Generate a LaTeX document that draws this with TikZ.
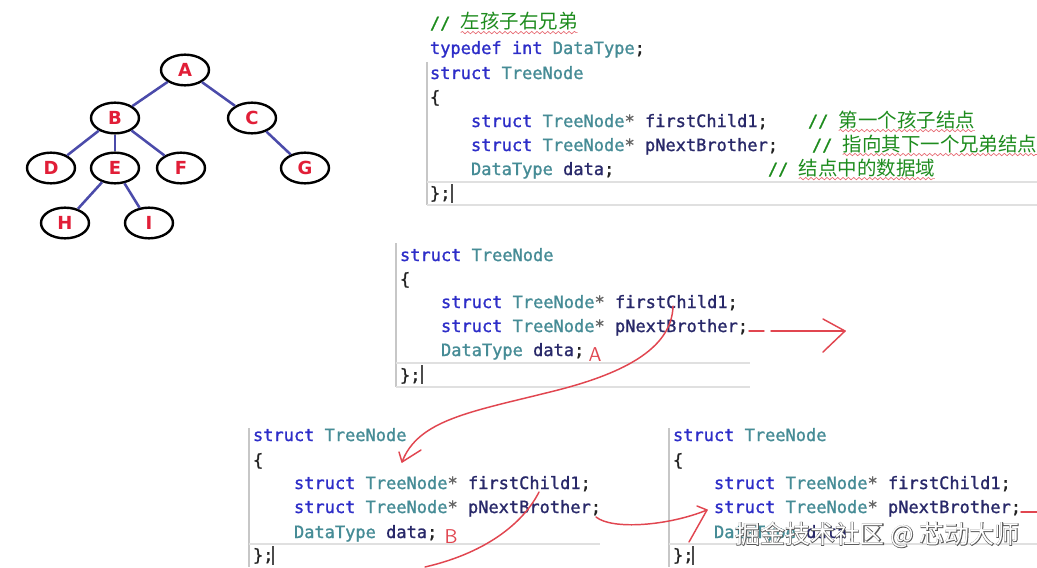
\documentclass[tikz,border=0pt]{standalone}
\usepackage{fontspec}
\newfontfamily\codefont[FakeBold=1.2]{DejaVu Sans Mono}
\newfontfamily\cjkfont{Noto Sans CJK SC}
\newfontfamily\cjkfat[FakeBold=4]{Noto Sans CJK SC}
\newfontfamily\treefont{DejaVu Sans}
\usetikzlibrary{shapes.geometric,decorations.pathmorphing}
\definecolor{kwblue}{RGB}{45,45,200}
\definecolor{tyteal}{RGB}{70,140,150}
\definecolor{idnavy}{RGB}{40,40,105}
\definecolor{cmgreen}{RGB}{30,140,30}
\definecolor{pencil}{RGB}{225,70,80}
\definecolor{edgeblue}{RGB}{75,75,170}
\definecolor{lettred}{RGB}{225,30,55}
\definecolor{punct}{RGB}{35,35,35}
\newcommand\cKw[1]{\textcolor{kwblue}{#1}}
\newcommand\cTy[1]{\textcolor{tyteal}{#1}}
\newcommand\cId[1]{\textcolor{idnavy}{#1}}
\newcommand\cPu[1]{\textcolor{punct}{#1}}
\newcommand\cSt{\textcolor{punct!70}{*}}
\begin{document}
\begin{tikzpicture}[x=0.75pt,y=-0.75pt,
  treenode/.style={ellipse,draw=black,line width=1.8pt,fill=white,minimum width=36,minimum height=23,inner sep=0pt,
    font=\treefont\bfseries\fontsize{13.5pt}{14pt}\selectfont,text=lettred},
  treeedge/.style={draw=edgeblue,line width=1.9pt},
  codeline/.style={font=\codefont\fontsize{12.75pt}{15pt}\selectfont,inner sep=0pt,outer sep=0pt,anchor=base west},
  cjkcm/.style={font=\cjkfont\fontsize{14.6pt}{16pt}\selectfont,text=cmgreen,inner sep=0pt,outer sep=0pt,anchor=base west},
  wavy/.style={draw=pencil!80,line width=0.5pt,decorate,decoration={snake,amplitude=0.9,segment length=4}},
  border/.style={draw=black!22,line width=0.8pt},
  sep/.style={draw=black!12,line width=0.8pt},
  cursor/.style={draw=black!70,line width=0.9pt},
  pen/.style={draw=pencil,line width=1.1pt,line cap=round,line join=round},
  penlabel/.style={text=pencil,font=\sffamily\fontsize{15pt}{16pt}\selectfont,inner sep=0pt},
  wm/.style={font=\fontsize{18.7pt}{20pt}\selectfont,inner sep=0pt,anchor=west}]
\useasboundingbox[fill=white] (0,0) rectangle (1037,567);

% ---------------- tree ----------------
\node[treenode] (A) at (185,70) {A};
\node[treenode] (B) at (115,118) {B};
\node[treenode] (C) at (252,118) {C};
\node[treenode] (D) at (51,168) {D};
\node[treenode] (E) at (115,168) {E};
\node[treenode] (F) at (181,168) {F};
\node[treenode] (G) at (305,168) {G};
\node[treenode] (H) at (65,223) {H};
\node[treenode] (I) at (149,223) {I};
\draw[treeedge] (A) -- (B);
\draw[treeedge] (A) -- (C);
\draw[treeedge] (B) -- (D);
\draw[treeedge] (B) -- (E);
\draw[treeedge] (B) -- (F);
\draw[treeedge] (C) -- (G);
\draw[treeedge] (E) -- (H);
\draw[treeedge] (E) -- (I);

% ---------------- block 1 ----------------
\draw[border] (427,62) -- (427,205);
\draw[sep] (427,182) -- (1037,182);
\draw[sep] (427,205) -- (1037,205);
\draw[cursor] (452,184) -- (452,203);
\node[codeline] (b1c) at (430,29) {\textcolor{cmgreen}{// }};
\node[cjkcm] (b1cz) at (b1c.base east) {左孩子右兄弟};
\node[codeline] (b1t) at (430,54) {\cKw{typedef} \cKw{int} \cTy{DataType}\cPu{;}};
\node[codeline] (b1s) at (430,79) {\cKw{struct} \cTy{TreeNode}};
\node[codeline] (b1o) at (430,103) {\cPu{\{}};
\node[codeline] (b1f) at (471,127) {\cKw{struct} \cTy{TreeNode}\cSt{} \cId{firstChild1}\cPu{;}};
\node[codeline] (b1n) at (471,151) {\cKw{struct} \cTy{TreeNode}\cSt{} \cId{pNextBrother}\cPu{;}};
\node[codeline] (b1d) at (471,175) {\cTy{DataType} \cId{data}\cPu{;}};
\node[codeline] (b1e) at (430,199) {\cPu{\};}};
\node[codeline] (c1) at (808,127) {\textcolor{cmgreen}{// }};
\node[cjkcm] (c1z) at (c1.base east) {第一个孩子结点};
\node[codeline] (c2) at (812,151) {\textcolor{cmgreen}{// }};
\node[cjkcm] (c2z) at (c2.base east) {指向其下一个兄弟结点};
\node[codeline] (c3) at (768,175) {\textcolor{cmgreen}{// }};
\node[cjkcm] (c3z) at (c3.base east) {结点中的数据域};
\draw[wavy] ([yshift=-1.5]b1cz.south west) -- ([yshift=-1.5]b1cz.south east);
\draw[wavy] ([yshift=-1.5]c1z.south west) -- ([yshift=-1.5]c1z.south east);
\draw[wavy] ([yshift=-1.5]c2z.south west) -- ([yshift=-1.5]c2z.south east);
\draw[wavy] ([yshift=-1.5]c3z.south west) -- ([yshift=-1.5]c3z.south east);

% ---------------- block 2 ----------------
\draw[border] (396,243) -- (396,387);
\draw[sep] (396,363) -- (750,363);
\draw[sep] (396,387) -- (750,387);
\draw[cursor] (422,365) -- (422,384);
\node[codeline] (b2s) at (400,261) {\cKw{struct} \cTy{TreeNode}};
\node[codeline] (b2o) at (400,285) {\cPu{\{}};
\node[codeline] (b2f) at (441,308) {\cKw{struct} \cTy{TreeNode}\cSt{} \cId{firstChild1}\cPu{;}};
\node[codeline] (b2n) at (441,332) {\cKw{struct} \cTy{TreeNode}\cSt{} \cId{pNextBrother}\cPu{;}};
\node[codeline] (b2d) at (441,356) {\cTy{DataType} \cId{data}\cPu{;}};
\node[codeline] (b2e) at (400,381) {\cPu{\};}};
\node[penlabel] (labA) at (595,355) {A};

% ---------------- block 3 ----------------
\draw[border] (249,428) -- (249,567);
\draw[sep] (249,544) -- (600,544);
\draw[cursor] (273,546) -- (273,565);
\node[codeline] (b3s) at (253,441) {\cKw{struct} \cTy{TreeNode}};
\node[codeline] (b3o) at (253,466) {\cPu{\{}};
\node[codeline] (b3f) at (294,489) {\cKw{struct} \cTy{TreeNode}\cSt{} \cId{firstChild1}\cPu{;}};
\node[codeline] (b3n) at (294,513) {\cKw{struct} \cTy{TreeNode}\cSt{} \cId{pNextBrother}\cPu{;}};
\node[codeline] (b3d) at (294,538) {\cTy{DataType} \cId{data}\cPu{;}};
\node[codeline] (b3e) at (253,561) {\cPu{\};}};
\node[penlabel] (labB) at (451,537) {B};

% ---------------- block 4 ----------------
\draw[border] (669,428) -- (669,567);
\draw[sep] (669,544) -- (1037,544);
\draw[cursor] (693,546) -- (693,565);
\node[codeline] (b4s) at (673,441) {\cKw{struct} \cTy{TreeNode}};
\node[codeline] (b4o) at (673,466) {\cPu{\{}};
\node[codeline] (b4f) at (714,489) {\cKw{struct} \cTy{TreeNode}\cSt{} \cId{firstChild1}\cPu{;}};
\node[codeline] (b4n) at (714,513) {\cKw{struct} \cTy{TreeNode}\cSt{} \cId{pNextBrother}\cPu{;}};
\node[codeline] (b4d) at (714,538) {\cTy{DataType} \cId{data}\cPu{;}};
\node[codeline] (b4e) at (673,561) {\cPu{\};}};

% ---------------- red pen strokes ----------------
\coordinate (p1s) at (673,306);
\coordinate (p1m) at (550,392);
\coordinate (p1t) at (402,462);
\coordinate (p1a) at (399,452);
\coordinate (p1b) at (421,450);
\draw[pen] (p1s) .. controls (672,350) and (620,375) .. (p1m) .. controls (470,412) and (418,420) .. (p1t);
\draw[pen] (p1a) -- (p1t) -- (p1b);

\coordinate (r1a) at (749,331);
\coordinate (r1b) at (764,331);
\coordinate (r1c) at (771,331);
\coordinate (r1t) at (845,331);
\coordinate (r1u) at (823,319);
\coordinate (r1l) at (823,352);
\draw[pen] (r1a) -- (r1b);
\draw[pen] (r1c) -- (r1t);
\draw[pen] (r1u) -- (r1t) -- (r1l);

\coordinate (p2s) at (539,492);
\coordinate (p2e) at (425,567);
\draw[pen] (p2s) .. controls (525,520) and (490,552) .. (p2e);

\coordinate (p3s) at (596,517);
\coordinate (p3t) at (707,510);
\coordinate (p3u) at (697,506);
\coordinate (p3l) at (689,542);
\draw[pen] (p3s) .. controls (612,530) and (668,526) .. (p3t);
\draw[pen] (p3u) -- (p3t) -- (p3l);

\coordinate (p4s) at (1021,512);
\coordinate (p4e) at (1037,512);
\draw[pen] (p4s) -- (p4e);

% ---------------- watermark ----------------
\node[wm,text=black!65,font=\cjkfat\fontsize{18.7pt}{20pt}\selectfont] (wmo) at (735,535) {掘金技术社区 @ 芯动大师};
\node[wm,text=white,font=\cjkfont\fontsize{18.7pt}{20pt}\selectfont] (wm) at (735,535) {掘金技术社区 @ 芯动大师};
\end{tikzpicture}
\end{document}
